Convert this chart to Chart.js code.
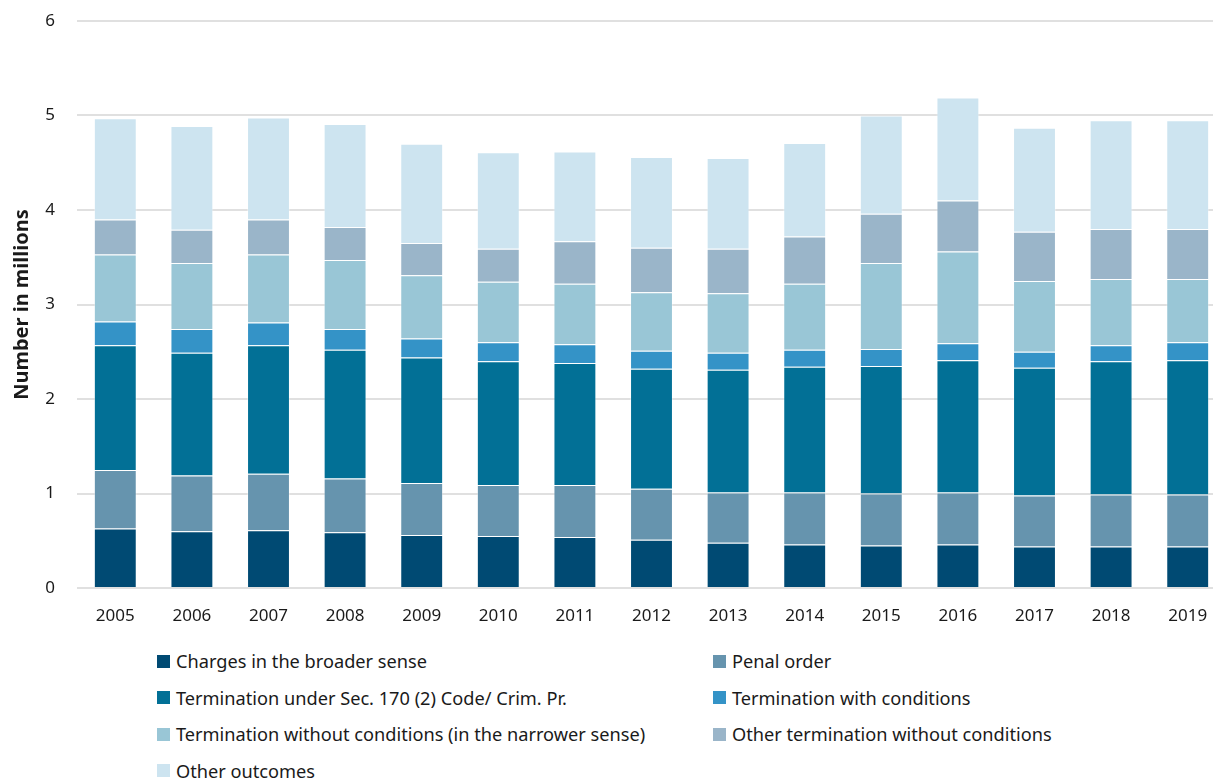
<!DOCTYPE html>
<html>
<head>
<meta charset="utf-8">
<script src="https://cdn.jsdelivr.net/npm/chart.js@4/dist/chart.umd.min.js"></script>
<style>
  body{margin:0;background:#fff;overflow:hidden;font-family:"Noto Sans",sans-serif;color:#1a1a1a}
  #wrap{position:relative;width:1226px;height:626px}
  #legende{position:absolute;left:0;top:0;width:1213px}
  .item{position:absolute;display:flex;align-items:center;font-size:18.2px;white-space:nowrap}
  .item span.box{display:inline-block;width:13px;height:13px;margin-right:6px}
</style>
</head>
<body>
<div id="wrap"><canvas id="bars"></canvas></div>
<div id="legende"></div>
<script>
// years + values (millions)
var years=["2005","2006","2007","2008","2009","2010","2011","2012","2013","2014","2015","2016","2017","2018","2019"]
var charges=[0.63,0.60,0.61,0.59,0.56,0.55,0.54,0.51,0.48,0.46,0.45,0.46,0.44,0.44,0.44]
var penalOrder=[0.62,0.59,0.60,0.57,0.55,0.54,0.55,0.54,0.53,0.55,0.55,0.55,0.54,0.55,0.55]
var sec170=[1.32,1.30,1.36,1.36,1.33,1.31,1.29,1.27,1.30,1.33,1.35,1.40,1.35,1.41,1.42]
var withCond=[0.25,0.25,0.24,0.22,0.20,0.20,0.20,0.19,0.18,0.18,0.18,0.18,0.17,0.17,0.19]
var narrower=[0.71,0.70,0.72,0.73,0.67,0.64,0.64,0.62,0.63,0.70,0.91,0.97,0.75,0.70,0.67]
var otherTerm=[0.37,0.35,0.37,0.35,0.34,0.35,0.45,0.47,0.47,0.50,0.52,0.54,0.52,0.53,0.53]
var otherOut=[1.07,1.10,1.08,1.09,1.05,1.02,0.95,0.96,0.96,0.99,1.04,1.09,1.10,1.15,1.15]
var yTicks=[0,1,2,3,4,5,6]

var labelsSeries=["Charges in the broader sense","Penal order","Termination under Sec. 170 (2) Code/ Crim. Pr.","Termination with conditions","Termination without conditions (in the narrower sense)","Other termination without conditions","Other outcomes"]
var valeurs=[charges,penalOrder,sec170,withCond,narrower,otherTerm,otherOut]
var couleurs=["rgb(0,74,115)","rgb(102,148,174)","rgb(2,112,150)","rgb(52,147,199)","rgb(153,198,214)","rgb(154,181,201)","rgb(205,228,240)"]

let datasets=[]
for(let i=0;i<valeurs.length;i++){
  datasets.push({
    label:labelsSeries[i],
    data:valeurs[i],
    backgroundColor:couleurs[i],
    borderColor:"rgba(255,255,255,0.35)",
    borderWidth:1,
    categoryPercentage:1,
    barPercentage:0.56
  })
}

const config={
  type:"bar",
  data:{labels:years,datasets:datasets},
  options:{
    responsive:true,
    maintainAspectRatio:false,
    animation:false,
    layout:{padding:{top:21,bottom:0,left:0,right:0}},
    plugins:{legend:{display:false},tooltip:{enabled:false}},
    scales:{
      x:{
        stacked:true,
        afterFit:function(scale){scale.height=38},
        grid:{display:false,drawTicks:false},
        border:{display:false},
        ticks:{color:"#1a1a1a",padding:18,font:{family:"Noto Sans",size:17}}
      },
      y:{
        stacked:true,
        min:0,max:6,
        afterFit:function(scale){
          scale.width=77
          scale.paddingTop=0
          scale.paddingBottom=0
        },
        afterBuildTicks:function(scale){scale.ticks=yTicks.map(v=>({value:v}))},
        grid:{color:"#e0e0e0",lineWidth:2,drawTicks:false},
        border:{display:false},
        ticks:{color:"#1a1a1a",padding:22,font:{family:"Noto Sans",size:17}},
        title:{display:true,text:"Number in millions",color:"#1a1a1a",padding:{top:10,bottom:4},font:{family:"Noto Sans",size:20,weight:"bold"}}
      }
    }
  }
}

const zone=document.getElementById("bars")
const graphe=new Chart(zone,config)

// legend in two columns, built from the chart's datasets
const colX=[157,713]
const rowY=[661,697.5,734,770.5]
const leg=document.getElementById("legende")
graphe.data.datasets.forEach(function(ds,i){
  let d=document.createElement("div")
  d.className="item"
  d.style.left=colX[i%2]+"px"
  d.style.top=(rowY[Math.floor(i/2)]-12)+"px"
  d.style.height="24px"
  d.innerHTML='<span class="box" style="background:'+ds.backgroundColor+'"></span>'+ds.label
  leg.appendChild(d)
})
</script>
</body>
</html>
